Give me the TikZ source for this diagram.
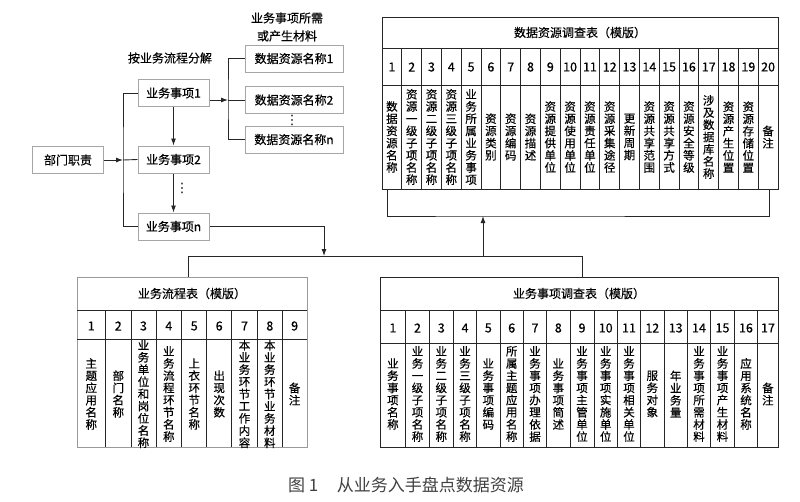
\documentclass[tikz,border=0pt]{standalone}
\usepackage{fontspec}
\setmainfont{Noto Sans CJK SC}[FakeBold=0.4]
\newfontfamily\capfont{Noto Sans CJK SC}
\newfontfamily\symfont{DejaVu Sans}
\usetikzlibrary{arrows.meta}
\ExplSyntaxOn
\seq_new:N \l_vt_seq
\NewDocumentCommand \vt { m }
  {
    \seq_clear:N \l_vt_seq
    \exp_args:Nx \tl_map_inline:nn {#1}
      { \seq_put_right:Nn \l_vt_seq {##1} }
    \seq_use:Nn \l_vt_seq { \\ }
  }
\ExplSyntaxOff
\begin{document}
\begin{tikzpicture}[x=1pt,y=-1pt,
		every node/.style={font=\fontsize{12}{14}\selectfont,text=black},
		box/.style={draw=black!35,line width=1pt,fill=white,minimum width=71,minimum height=27,inner sep=0pt},
		frame/.style={draw=black!85,line width=0.9pt,inner sep=0pt},
		col/.style={align=center,inner sep=0pt,font=\fontsize{11.5}{12.2}\selectfont},
		num/.style={font=\fontsize{12.5}{14}\selectfont},
		dots/.style={inner sep=0pt,font=\symfont\fontsize{13}{13}\selectfont},
		link/.style={draw=black!85,line width=0.9pt},
		arr/.style={link,-{Latex[length=7pt,width=5pt]}}]
		\useasboundingbox (0,0) rectangle (800,501);
		
		\node[box] (dept) at (68,160) {部门职责};
		\node[box] (b1) at (173.5,93) {业务事项1};
		\node[box] (b2) at (173.5,159.5) {业务事项2};
		\node[box] (bn) at (173.5,226.5) {业务事项n};
		\node[box,minimum width=98] (d1) at (294,58.5) {数据资源名称1};
		\node[box,minimum width=98] (d2) at (294,100) {数据资源名称2};
		\node[box,minimum width=98] (dn) at (294,139.5) {数据资源名称n};
		\node (split label) at (170,58) {按业务流程分解};
		\node[align=center,font=\fontsize{12}{18}\selectfont] (need label) at (287,27) {业务事项所需\\或产生材料};
		\node[dots] (vd1) at (292,120) {⋮};
		\node[dots] (vd2) at (182,188) {⋮};
		
		\coordinate (split) at (123,160);
		\coordinate (fork) at (228,100);
		\draw[arr] (dept) -- (split);
		\draw[link] (b1.west) -| (split) |- (bn.west);
		\draw[link] (split) -- (b2.west);
		\draw[arr] (b1) -- (b2);
		\draw[arr] (b2) -- (bn);
		\draw[arr] (b1.east |- fork) -- (fork);
		\draw[link] (d1.west) -| (fork) |- (dn.west);
		\draw[link] (fork) -- (d2.west);
		
		\node[frame,minimum width=396,minimum height=172] (dtab) at (580,103) {};
		\node (dtitle) at (580,32.5) {数据资源调查表（模版）};
		\draw[link] (382,48) -- (778,48);
		\draw[link] (382,85) -- (778,85);
		\foreach \i in {1,...,19}
		\draw[link] (382+19.8*\i,48) -- (382+19.8*\i,189);
		\foreach \t [count=\i] in {数据资源名称,资源一级子项名称,资源二级子项名称,资源三级子项名称,
			业务所属业务事项,资源类别,资源编码,资源描述,资源提供单位,资源使用单位,资源责任单位,
			资源采集途径,更新周期,资源共享范围,资源共享方式,资源安全等级,涉及数据库名称,
			资源产生位置,资源存储位置,备注}
		{
			\node[num] (dnum\i) at (372.1+19.8*\i,67) {\i};
			\node[col] (dcol\i) at (372.1+19.8*\i,137) {\vt{\t}};
		}
		
		\node[frame,draw=black!40,minimum width=230,minimum height=170] (ftab) at (192,362) {};
		\node (ftitle) at (192,293.5) {业务流程表（模版）};
		\draw[link] (77,310) -- (307,310);
		\draw[link] (77,339) -- (307,339);
		\foreach \x in {105.7,131,156,181.7,206.7,231.7,257.3,282.3}
		\draw[link] (\x,310) -- (\x,447);
		\foreach \x/\t [count=\i] in {91.3/主题应用名称,118.3/部门名称,143.5/业务单位和岗位名称,
			168.8/业务流程环节名称,194.2/上衣环节名称,219.2/出现次数,244.5/本业务环节工作内容,
			269.8/本业务环节业务材料,294.6/备注}
		{
			\node[num] (fnum\i) at (\x,326) {\i};
			\node[col] (fcol\i) at (\x,394) {\vt{\t}};
		}
		
		\node[frame,minimum width=398,minimum height=170] (stab) at (579,362) {};
		\node (stitle) at (579,293.5) {业务事项调查表（模版）};
		\draw[link] (380,310) -- (778,310);
		\draw[link] (380,343) -- (778,343);
		\foreach \x in {405.7,429.3,453.3,476.7,500,523.3,546.7,570,594,617.3,640.7,664,687.3,710.7,734.3,757.7}
		\draw[link] (\x,310) -- (\x,447);
		\foreach \x/\t [count=\i] in {392.9/业务事项名称,417.5/业务一级子项名称,441.3/业务二级子项名称,
			465/业务三级子项名称,488.3/业务事项编码,511.7/所属主题应用名称,535/业务事项办理依据,
			558.3/业务事项简述,582/业务事项主管单位,605.7/业务事项实施单位,629/业务事项相关单位,
			652.3/服务对象,675.7/年业务量,699/业务事项所需材料,722.5/业务事项产生材料,
			746/应用系统名称,767.9/备注}
		{
			\node[num] (snum\i) at (\x,328) {\i};
			\node[col] (scol\i) at (\x,394) {\vt{\t}};
		}
		
		\coordinate (hub) at (324,256);
		\coordinate (hl) at (188,256);
		\coordinate (hr) at (582,256);
		\coordinate (up) at (483,256);
		\coordinate (bb) at (483,216);
		\coordinate (bl) at (387,189);
		\coordinate (br) at (769,189);
		\draw[arr] (bn.east) -| (hub);
		\draw[link] (ftab.north -| hl) -- (hl) -- (hr) -- (stab.north -| hr);
		\draw[arr] (up) -- (bb);
		\draw[link] (bl) |- (bb) -| (br);
		
		\node[font=\capfont\fontsize{17}{20}\selectfont,text=black!75] (caption) at (406,485) {图 1\hspace{1.1em}从业务入手盘点数据资源};
	\end{tikzpicture}
\end{document}
